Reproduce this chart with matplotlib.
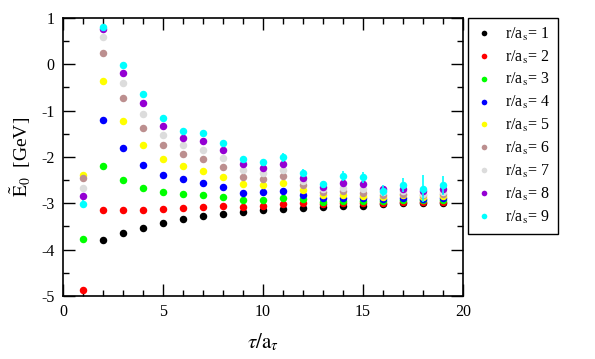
import numpy as np
import matplotlib
matplotlib.use("Agg")
import matplotlib.pyplot as plt
from matplotlib.ticker import MultipleLocator

plt.rcParams["font.family"] = ["Liberation Serif", "DejaVu Serif"]
plt.rcParams["mathtext.fontset"] = "stix"
plt.rcParams["axes.unicode_minus"] = False

nan = np.nan
tau = np.arange(1, 20)

# E0 estimates for each r/a_s (nan = not shown)
E_r1 = [nan, -3.79, -3.65, -3.54, -3.43, -3.34, -3.28, -3.22, -3.19, -3.15,
        -3.12, -3.09, -3.07, -3.06, -3.05, -3.02, -3.00, -3.00, -3.00]
E_r2 = [-4.86, -3.14, -3.15, -3.15, -3.13, -3.10, -3.07, -3.06, -3.07, -3.05,
        -3.02, -3.00, -3.02, -3.00, -3.00, -2.99, -2.97, -2.97, -2.97]
E_r3 = [-3.77, -2.20, -2.49, -2.67, -2.76, -2.80, -2.83, -2.87, -2.92, -2.92,
        -2.88, -2.91, -2.97, -2.94, -2.94, -2.94, -2.92, -2.93, -2.92]
E_r4 = [nan, -1.21, -1.81, -2.17, -2.38, -2.48, -2.56, -2.64, -2.77, -2.76,
        -2.73, -2.81, -2.89, -2.88, -2.89, -2.90, -2.88, -2.90, -2.89]
E_r5 = [-2.38, -0.36, -1.22, -1.74, -2.05, -2.20, -2.30, -2.43, -2.59, -2.61,
        -2.56, -2.71, -2.81, -2.82, -2.84, -2.86, -2.83, -2.86, -2.84]
E_r6 = [-2.46, 0.24, -0.73, -1.38, -1.75, -1.94, -2.05, -2.22, -2.43, -2.47,
        -2.41, -2.61, -2.76, -2.73, -2.77, -2.81, -2.79, -2.83, -2.80]
E_r7 = [-2.66, 0.60, -0.40, -1.08, -1.52, -1.74, -1.84, -2.02, -2.28, -2.34,
        -2.27, -2.51, -2.70, -2.66, -2.70, -2.76, -2.74, -2.79, -2.75]
E_r8 = [-2.84, 0.76, -0.18, -0.84, -1.33, -1.58, -1.65, -1.84, -2.15, -2.23,
        -2.15, -2.46, -2.64, -2.56, -2.59, -2.69, -2.69, -2.74, -2.70]
E_r9 = [-3.02, 0.80, -0.02, -0.63, -1.16, -1.43, -1.48, -1.70, -2.04, -2.11,
        -2.01, -2.35, -2.59, -2.41, -2.44, -2.73, -2.61, -2.68, -2.61]

# errors (only visible for the larger separations)
err_r8 = [0.05, 0.03, 0.02, 0.02, 0.02, 0.02, 0.02, 0.03, 0.03, 0.03,
          0.04, 0.05, 0.05, 0.06, 0.06, 0.07, 0.08, 0.10, 0.10]
err_r9 = [0.09, 0.05, 0.03, 0.03, 0.03, 0.03, 0.04, 0.04, 0.05, 0.05,
          0.10, 0.09, 0.07, 0.10, 0.12, 0.12, 0.15, 0.29, 0.20]

series = [E_r1, E_r2, E_r3, E_r4, E_r5, E_r6, E_r7, E_r8, E_r9]
errors = [None] * 7 + [err_r8, err_r9]
colors = ["black", "#ff0000", "#00ff00", "#0000ff", "#ffff00",
          "#bc8f8f", "#dcdcdc", "#9400d3", "#00ffff"]

fig = plt.figure(figsize=(5.95, 3.59), dpi=100)
ax = fig.add_axes([63 / 595, 1 - 296 / 359, 400 / 595, 278 / 359])

for i, (E, err, c) in enumerate(zip(series, errors, colors)):
    if err is not None:
        ax.errorbar(tau, E, yerr=err, fmt="none", ecolor=c,
                    elinewidth=1.2, capsize=0)
    ax.plot(tau, E, "o", color=c, ms=5.4, mew=0,
            label=r"r/a$_\mathrm{s}$= %d" % (i + 1))

ax.set_xlim(0, 20)
ax.set_ylim(-5, 1)
ax.xaxis.set_major_locator(MultipleLocator(5))
ax.xaxis.set_minor_locator(MultipleLocator(1))
ax.yaxis.set_major_locator(MultipleLocator(1))
ax.yaxis.set_minor_locator(MultipleLocator(0.5))
ax.tick_params(which="both", direction="in", top=True, right=True,
               labelsize=11.5, width=1)
ax.tick_params(which="major", length=8.5, pad=6)
ax.tick_params(which="minor", length=4.5)
for s in ax.spines.values():
    s.set_linewidth(1.2)

ax.set_xlabel(r"$\tau/\mathrm{a}_\tau$", fontsize=15, labelpad=8)
ax.set_ylabel(r"$\tilde{\mathrm{E}}_0$  [GeV]", fontsize=14, labelpad=6)

# legend box sits right of the axes
leg = ax.legend(loc="upper left", bbox_to_anchor=(468 / 595, 1 - 17.7 / 359),
                bbox_transform=fig.transFigure, borderaxespad=0,
                fancybox=False, edgecolor="black", framealpha=1,
                fontsize=11.5, markerscale=0.75, handlelength=1.0,
                handletextpad=0.8, labelspacing=0.36, borderpad=0.5)
leg.get_frame().set_linewidth(1.0)

fig.savefig("out.png", dpi=100)
